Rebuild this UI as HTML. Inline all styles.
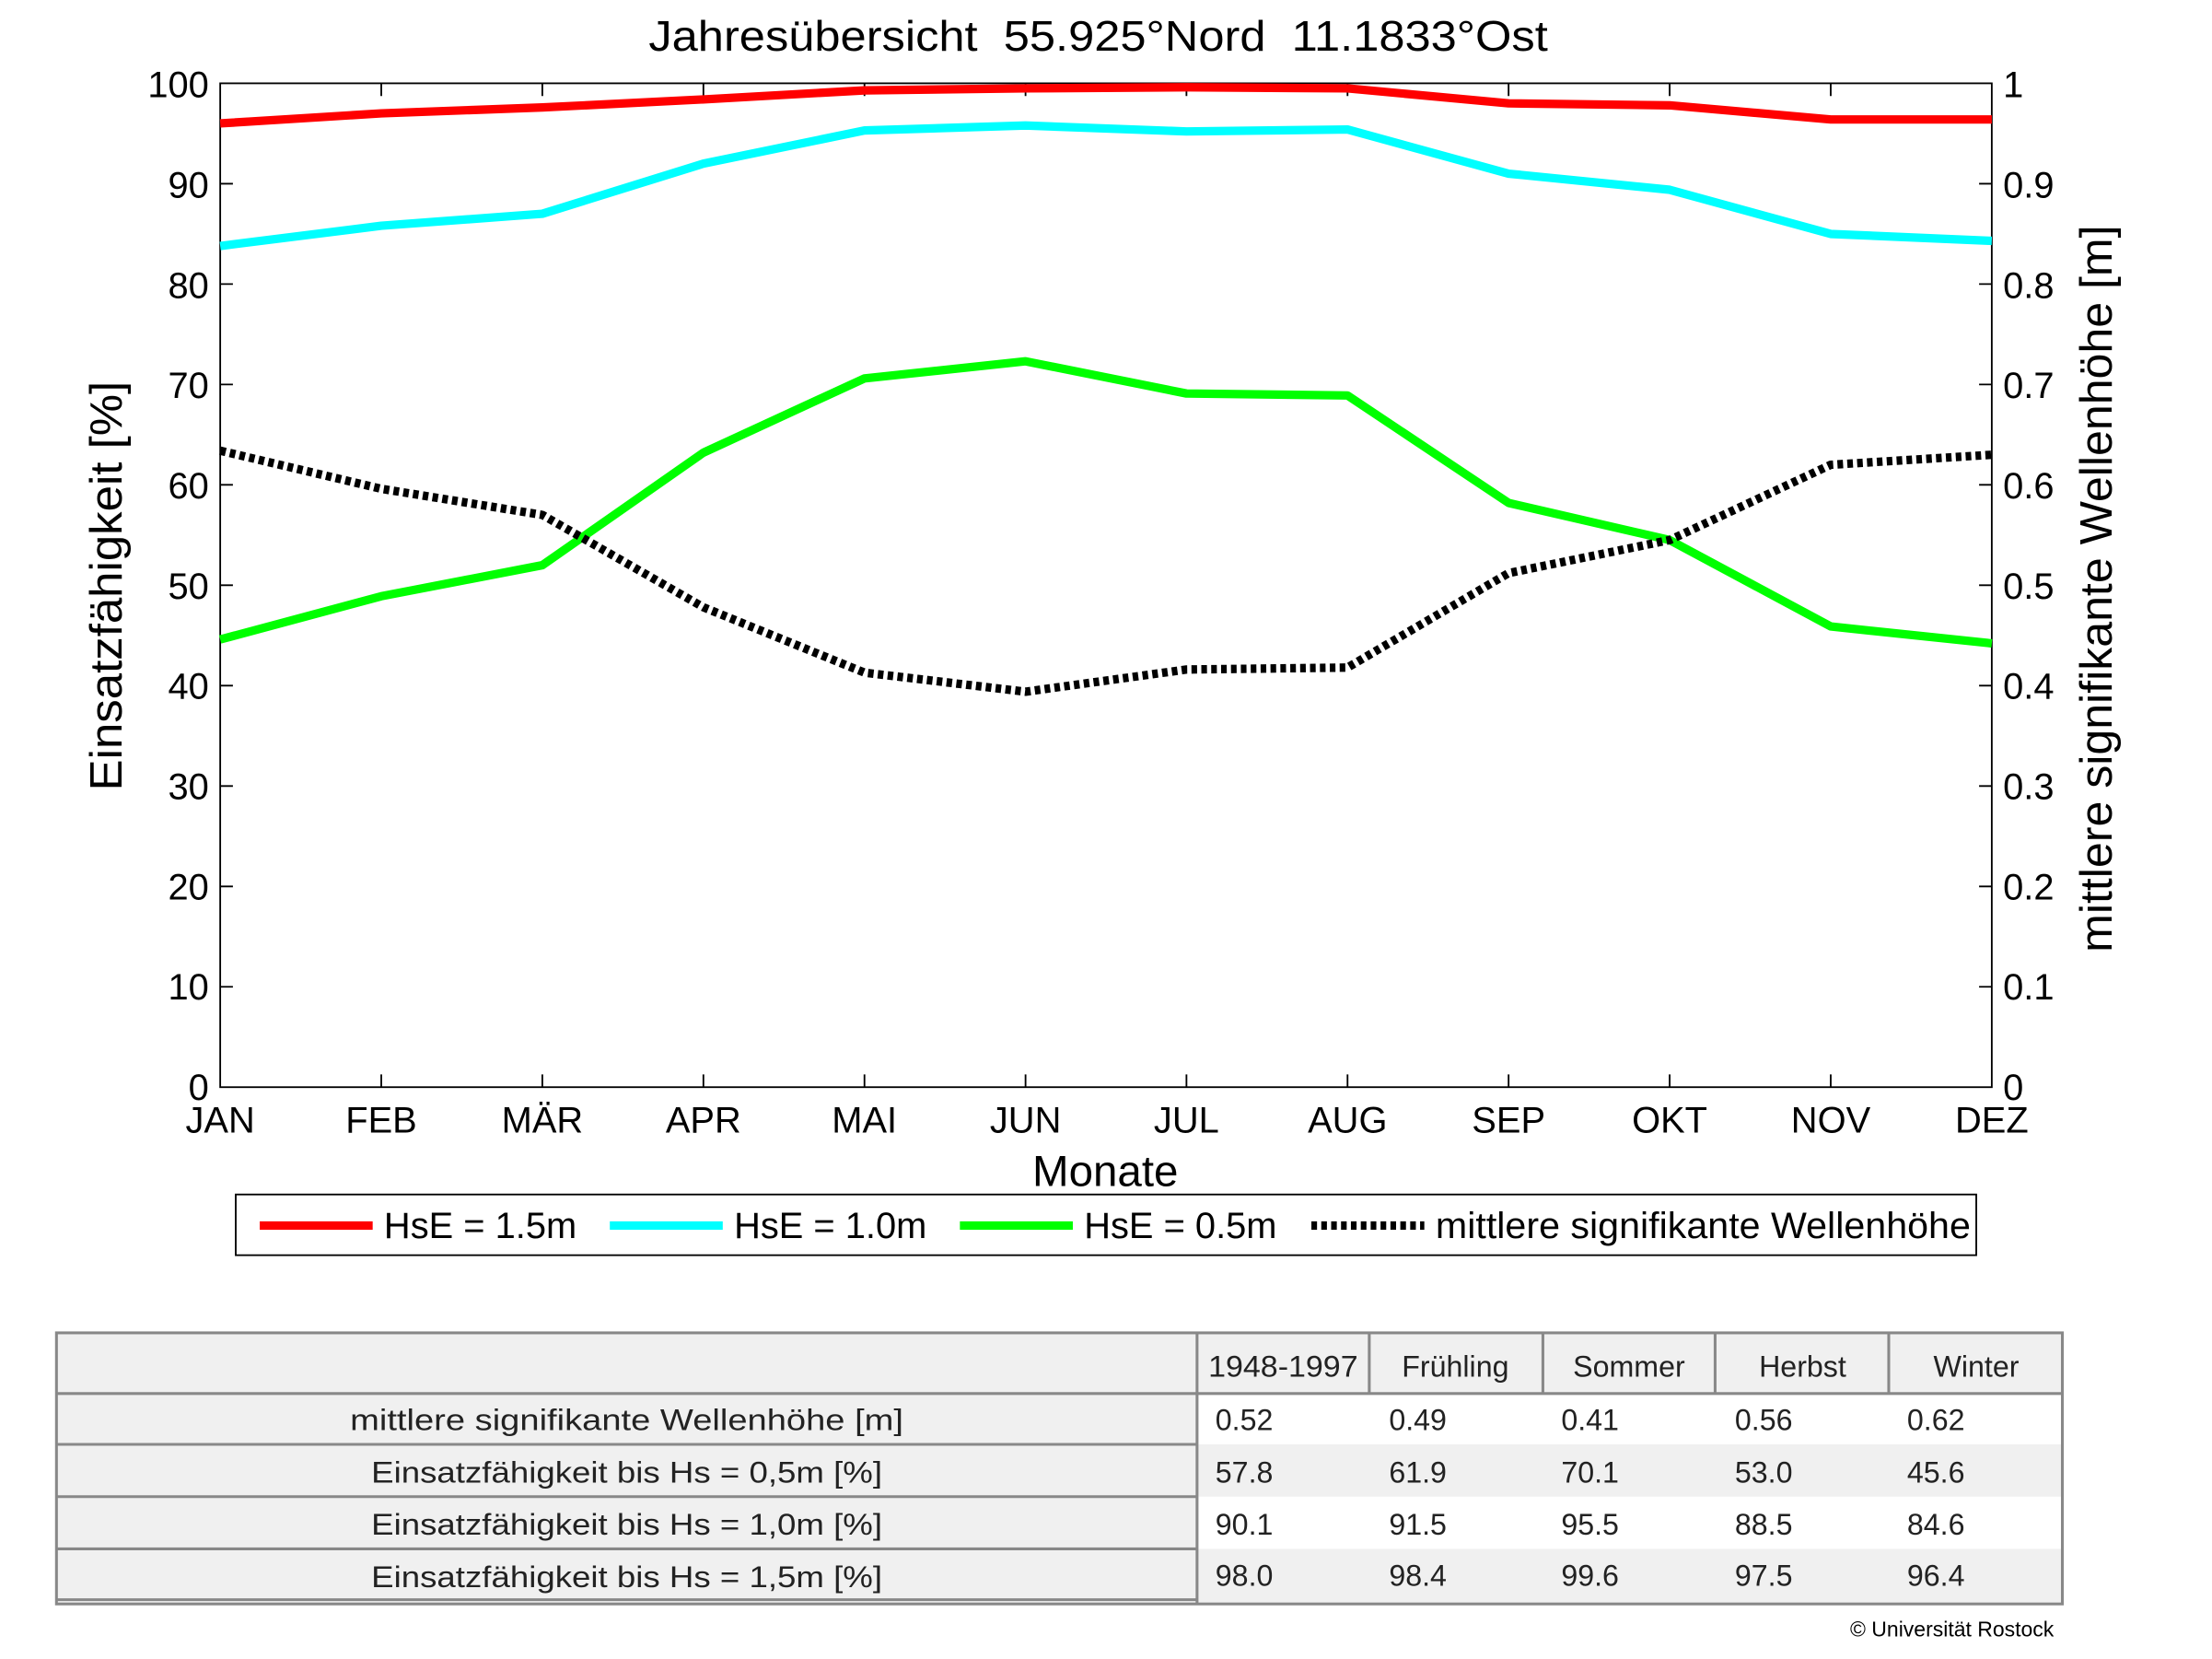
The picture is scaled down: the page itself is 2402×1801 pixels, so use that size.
<!DOCTYPE html>
<html><head><meta charset="utf-8"><style>html,body{margin:0;padding:0;background:#fff}svg{display:block}</style></head>
<body>
<svg width="2402" height="1801" viewBox="0 0 1567 1175" preserveAspectRatio="none" xmlns="http://www.w3.org/2000/svg" font-family="Liberation Sans, sans-serif">
<rect width="1567" height="1175" fill="#fff"/>
<text x="778" y="36" font-size="30" text-anchor="middle" xml:space="preserve" textLength="637" lengthAdjust="spacingAndGlyphs">Jahresübersicht  55.925°Nord  11.1833°Ost</text>
<rect x="156" y="59" width="1255" height="711" fill="#fff" stroke="#000" stroke-width="1.2"/>
<g stroke="#000" stroke-width="1.2">
<path d="M156 698.9h9M156 627.8h9M156 556.7h9M156 485.6h9M156 414.5h9M156 343.4h9M156 272.3h9M156 201.2h9M156 130.1h9"/>
<path d="M1411 698.9h-9M1411 627.8h-9M1411 556.7h-9M1411 485.6h-9M1411 414.5h-9M1411 343.4h-9M1411 272.3h-9M1411 201.2h-9M1411 130.1h-9"/>
<path d="M270.1 770v-9M384.2 770v-9M498.3 770v-9M612.4 770v-9M726.5 770v-9M840.5 770v-9M954.6 770v-9M1068.7 770v-9M1182.8 770v-9M1296.9 770v-9"/>
<path d="M270.1 59v9M384.2 59v9M498.3 59v9M612.4 59v9M726.5 59v9M840.5 59v9M954.6 59v9M1068.7 59v9M1182.8 59v9M1296.9 59v9"/>
</g>
<g font-size="26" text-anchor="end">
<text x="148" y="779">0</text><text x="148" y="708">10</text><text x="148" y="637">20</text><text x="148" y="566">30</text><text x="148" y="495">40</text><text x="148" y="424">50</text><text x="148" y="353">60</text><text x="148" y="282">70</text><text x="148" y="211">80</text><text x="148" y="140">90</text><text x="148" y="69">100</text>
</g>
<g font-size="26">
<text x="1419" y="779">0</text><text x="1419" y="708">0.1</text><text x="1419" y="637">0.2</text><text x="1419" y="566">0.3</text><text x="1419" y="495">0.4</text><text x="1419" y="424">0.5</text><text x="1419" y="353">0.6</text><text x="1419" y="282">0.7</text><text x="1419" y="211">0.8</text><text x="1419" y="140">0.9</text><text x="1419" y="69">1</text>
</g>
<g font-size="26" text-anchor="middle">
<text x="156" y="802">JAN</text><text x="270.1" y="802">FEB</text><text x="384.2" y="802">MÄR</text><text x="498.3" y="802">APR</text><text x="612.4" y="802">MAI</text><text x="726.5" y="802">JUN</text><text x="840.5" y="802">JUL</text><text x="954.6" y="802">AUG</text><text x="1068.7" y="802">SEP</text><text x="1182.8" y="802">OKT</text><text x="1296.9" y="802">NOV</text><text x="1411" y="802">DEZ</text>
</g>
<text x="783" y="840" font-size="31" text-anchor="middle">Monate</text>
<text transform="translate(86,415) rotate(-90)" font-size="32" text-anchor="middle" textLength="290" lengthAdjust="spacingAndGlyphs">Einsatzfähigkeit [%]</text>
<text transform="translate(1496,417) rotate(-90)" font-size="32" text-anchor="middle" textLength="515" lengthAdjust="spacingAndGlyphs">mittlere signifikante Wellenhöhe [m]</text>
<g fill="none" stroke-width="6" stroke-linejoin="round">
<polyline stroke="#ff0000" points="156,87.4 270.1,80.3 384.2,76.1 498.3,70.4 612.4,64 726.5,62.6 840.5,61.8 954.6,62.6 1068.7,73.2 1182.8,74.6 1296.9,84.6 1411,84.6"/>
<polyline stroke="#00ffff" points="156,174.2 270.1,159.9 384.2,151.4 498.3,115.9 612.4,92.4 726.5,88.9 840.5,93.1 954.6,91.7 1068.7,123 1182.8,134.4 1296.9,165.7 1411,170.6"/>
<polyline stroke="#00ff00" points="156,452.9 270.1,422.3 384.2,400.3 498.3,320.6 612.4,268 726.5,255.9 840.5,278.7 954.6,280.1 1068.7,356.2 1182.8,382.5 1296.9,443.7 1411,455.7"/>
<polyline stroke="#000" stroke-dasharray="4,3" points="156,319.2 270.1,346.2 384.2,364.7 498.3,430.1 612.4,476.4 726.5,489.9 840.5,474.2 954.6,472.8 1068.7,405.9 1182.8,382.5 1296.9,329.2 1411,322.1"/>
</g>
<rect x="167" y="846" width="1233" height="43" fill="#fff" stroke="#000" stroke-width="1.2"/>
<g stroke-width="6">
<line x1="184" y1="868" x2="264" y2="868" stroke="#ff0000"/>
<line x1="432" y1="868" x2="512" y2="868" stroke="#00ffff"/>
<line x1="680" y1="868" x2="760" y2="868" stroke="#00ff00"/>
<line x1="929" y1="868" x2="1009" y2="868" stroke="#000" stroke-dasharray="4,3"/>
</g>
<g font-size="26">
<text x="272" y="877">HsE = 1.5m</text><text x="520" y="877">HsE = 1.0m</text><text x="768" y="877">HsE = 0.5m</text><text x="1017" y="877" textLength="379" lengthAdjust="spacingAndGlyphs">mittlere signifikante Wellenhöhe</text>
</g>
<rect x="40" y="944" width="1421" height="192" fill="#f0f0f0"/>
<rect x="848" y="987" width="613" height="36" fill="#fff"/>
<rect x="848" y="1060" width="613" height="37" fill="#fff"/>
<g stroke="#888" stroke-width="2" fill="none">
<rect x="40" y="944" width="1421" height="192"/>
<path d="M40 987H1461M40 1023H848M40 1060H848M40 1097H848M40 1133H848"/>
<path d="M848 944V1136M970 944V987M1093 944V987M1215 944V987M1338 944V987"/>
</g>
<g font-size="21" fill="#222" text-anchor="middle">
<text x="909" y="975" textLength="106" lengthAdjust="spacingAndGlyphs">1948-1997</text><text x="1031" y="975">Frühling</text><text x="1154" y="975">Sommer</text><text x="1277" y="975">Herbst</text><text x="1400" y="975">Winter</text>
<text x="444" y="1013" textLength="392" lengthAdjust="spacingAndGlyphs">mittlere signifikante Wellenhöhe [m]</text>
<text x="444" y="1050" textLength="362" lengthAdjust="spacingAndGlyphs">Einsatzfähigkeit bis Hs = 0,5m [%]</text>
<text x="444" y="1087" textLength="362" lengthAdjust="spacingAndGlyphs">Einsatzfähigkeit bis Hs = 1,0m [%]</text>
<text x="444" y="1124" textLength="362" lengthAdjust="spacingAndGlyphs">Einsatzfähigkeit bis Hs = 1,5m [%]</text>
</g>
<g font-size="21" fill="#222">
<text x="861" y="1013">0.52</text><text x="984" y="1013">0.49</text><text x="1106" y="1013">0.41</text><text x="1229" y="1013">0.56</text><text x="1351" y="1013">0.62</text>
<text x="861" y="1050">57.8</text><text x="984" y="1050">61.9</text><text x="1106" y="1050">70.1</text><text x="1229" y="1050">53.0</text><text x="1351" y="1050">45.6</text>
<text x="861" y="1087">90.1</text><text x="984" y="1087">91.5</text><text x="1106" y="1087">95.5</text><text x="1229" y="1087">88.5</text><text x="1351" y="1087">84.6</text>
<text x="861" y="1123">98.0</text><text x="984" y="1123">98.4</text><text x="1106" y="1123">99.6</text><text x="1229" y="1123">97.5</text><text x="1351" y="1123">96.4</text>
</g>
<text x="1455" y="1159" font-size="15" text-anchor="end">© Universität Rostock</text>
</svg>
</body></html>
